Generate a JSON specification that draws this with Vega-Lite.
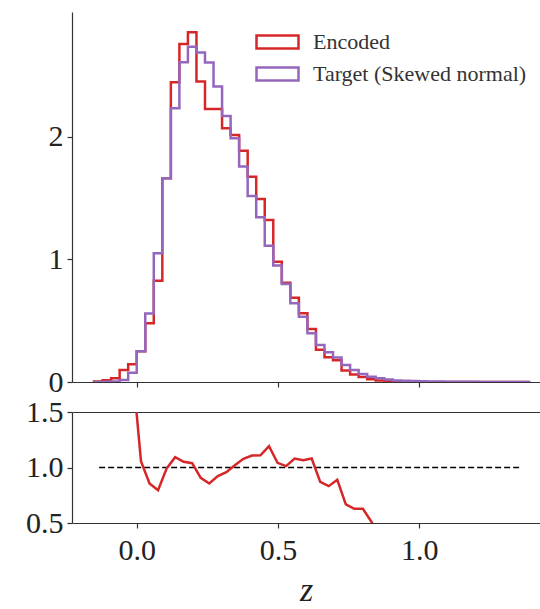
{
  "$schema": "https://vega.github.io/schema/vega-lite/v6.json",
  "padding": {"left": 12, "top": 12, "right": 0, "bottom": 0},
  "background": "white",
  "spacing": 30,
  "bounds": "flush",
  "config": {
    "view": {"stroke": null},
    "font": "Liberation Serif",
    "axis": {
      "grid": false,
      "domainColor": "#333333",
      "domainWidth": 1.2,
      "tickColor": "#333333",
      "tickWidth": 1.2,
      "tickSize": 5,
      "labelFont": "Liberation Serif",
      "labelFontSize": 30,
      "labelColor": "#222222",
      "titleFont": "Liberation Serif",
      "titleColor": "#222222"
    }
  },
  "datasets": {
    "hist": [
      {"series": "Encoded", "i": 0, "x": -0.151, "h": 0},
      {"series": "Encoded", "i": 1, "x": -0.151, "h": 0.005},
      {"series": "Encoded", "i": 2, "x": -0.1208, "h": 0.015},
      {"series": "Encoded", "i": 3, "x": -0.0906, "h": 0.03},
      {"series": "Encoded", "i": 4, "x": -0.0604, "h": 0.098},
      {"series": "Encoded", "i": 5, "x": -0.0302, "h": 0.144},
      {"series": "Encoded", "i": 6, "x": 0.0, "h": 0.25},
      {"series": "Encoded", "i": 7, "x": 0.0302, "h": 0.479},
      {"series": "Encoded", "i": 8, "x": 0.0604, "h": 0.827},
      {"series": "Encoded", "i": 9, "x": 0.0906, "h": 1.663},
      {"series": "Encoded", "i": 10, "x": 0.1208, "h": 2.447},
      {"series": "Encoded", "i": 11, "x": 0.151, "h": 2.759},
      {"series": "Encoded", "i": 12, "x": 0.1812, "h": 2.855},
      {"series": "Encoded", "i": 13, "x": 0.2114, "h": 2.452},
      {"series": "Encoded", "i": 14, "x": 0.2416, "h": 2.229},
      {"series": "Encoded", "i": 15, "x": 0.2718, "h": 2.229},
      {"series": "Encoded", "i": 16, "x": 0.302, "h": 2.071},
      {"series": "Encoded", "i": 17, "x": 0.3322, "h": 2.016},
      {"series": "Encoded", "i": 18, "x": 0.3624, "h": 1.888},
      {"series": "Encoded", "i": 19, "x": 0.3926, "h": 1.676},
      {"series": "Encoded", "i": 20, "x": 0.4228, "h": 1.494},
      {"series": "Encoded", "i": 21, "x": 0.453, "h": 1.322},
      {"series": "Encoded", "i": 22, "x": 0.4832, "h": 0.982},
      {"series": "Encoded", "i": 23, "x": 0.5134, "h": 0.81},
      {"series": "Encoded", "i": 24, "x": 0.5436, "h": 0.688},
      {"series": "Encoded", "i": 25, "x": 0.5738, "h": 0.561},
      {"series": "Encoded", "i": 26, "x": 0.604, "h": 0.433},
      {"series": "Encoded", "i": 27, "x": 0.6342, "h": 0.263},
      {"series": "Encoded", "i": 28, "x": 0.6644, "h": 0.201},
      {"series": "Encoded", "i": 29, "x": 0.6946, "h": 0.177},
      {"series": "Encoded", "i": 30, "x": 0.7248, "h": 0.093},
      {"series": "Encoded", "i": 31, "x": 0.755, "h": 0.062},
      {"series": "Encoded", "i": 32, "x": 0.7852, "h": 0.041},
      {"series": "Encoded", "i": 33, "x": 0.8154, "h": 0.022},
      {"series": "Encoded", "i": 34, "x": 0.8456, "h": 0.012},
      {"series": "Encoded", "i": 35, "x": 0.8758, "h": 0.008},
      {"series": "Encoded", "i": 36, "x": 0.906, "h": 0.004},
      {"series": "Encoded", "i": 37, "x": 0.9362, "h": 0.002},
      {"series": "Encoded", "i": 38, "x": 0.9664, "h": 0},
      {"series": "Encoded", "i": 39, "x": 1.3892, "h": 0},
      {"series": "Target (Skewed normal)", "i": 0, "x": -0.151, "h": 0},
      {"series": "Target (Skewed normal)", "i": 1, "x": -0.151, "h": 0.001},
      {"series": "Target (Skewed normal)", "i": 2, "x": -0.1208, "h": 0.003},
      {"series": "Target (Skewed normal)", "i": 3, "x": -0.0906, "h": 0.005},
      {"series": "Target (Skewed normal)", "i": 4, "x": -0.0604, "h": 0.016},
      {"series": "Target (Skewed normal)", "i": 5, "x": -0.0302, "h": 0.076},
      {"series": "Target (Skewed normal)", "i": 6, "x": 0.0, "h": 0.25},
      {"series": "Target (Skewed normal)", "i": 7, "x": 0.0302, "h": 0.56},
      {"series": "Target (Skewed normal)", "i": 8, "x": 0.0604, "h": 1.05},
      {"series": "Target (Skewed normal)", "i": 9, "x": 0.0906, "h": 1.663},
      {"series": "Target (Skewed normal)", "i": 10, "x": 0.1208, "h": 2.234},
      {"series": "Target (Skewed normal)", "i": 11, "x": 0.151, "h": 2.61},
      {"series": "Target (Skewed normal)", "i": 12, "x": 0.1812, "h": 2.737},
      {"series": "Target (Skewed normal)", "i": 13, "x": 0.2114, "h": 2.69},
      {"series": "Target (Skewed normal)", "i": 14, "x": 0.2416, "h": 2.607},
      {"series": "Target (Skewed normal)", "i": 15, "x": 0.2718, "h": 2.411},
      {"series": "Target (Skewed normal)", "i": 16, "x": 0.302, "h": 2.171},
      {"series": "Target (Skewed normal)", "i": 17, "x": 0.3322, "h": 1.989},
      {"series": "Target (Skewed normal)", "i": 18, "x": 0.3624, "h": 1.758},
      {"series": "Target (Skewed normal)", "i": 19, "x": 0.3926, "h": 1.518},
      {"series": "Target (Skewed normal)", "i": 20, "x": 0.4228, "h": 1.344},
      {"series": "Target (Skewed normal)", "i": 21, "x": 0.453, "h": 1.113},
      {"series": "Target (Skewed normal)", "i": 22, "x": 0.4832, "h": 0.95},
      {"series": "Target (Skewed normal)", "i": 23, "x": 0.5134, "h": 0.80},
      {"series": "Target (Skewed normal)", "i": 24, "x": 0.5436, "h": 0.642},
      {"series": "Target (Skewed normal)", "i": 25, "x": 0.5738, "h": 0.533},
      {"series": "Target (Skewed normal)", "i": 26, "x": 0.604, "h": 0.397},
      {"series": "Target (Skewed normal)", "i": 27, "x": 0.6342, "h": 0.302},
      {"series": "Target (Skewed normal)", "i": 28, "x": 0.6644, "h": 0.242},
      {"series": "Target (Skewed normal)", "i": 29, "x": 0.6946, "h": 0.199},
      {"series": "Target (Skewed normal)", "i": 30, "x": 0.7248, "h": 0.139},
      {"series": "Target (Skewed normal)", "i": 31, "x": 0.755, "h": 0.098},
      {"series": "Target (Skewed normal)", "i": 32, "x": 0.7852, "h": 0.065},
      {"series": "Target (Skewed normal)", "i": 33, "x": 0.8154, "h": 0.043},
      {"series": "Target (Skewed normal)", "i": 34, "x": 0.8456, "h": 0.03},
      {"series": "Target (Skewed normal)", "i": 35, "x": 0.8758, "h": 0.02},
      {"series": "Target (Skewed normal)", "i": 36, "x": 0.906, "h": 0.013},
      {"series": "Target (Skewed normal)", "i": 37, "x": 0.9362, "h": 0.01},
      {"series": "Target (Skewed normal)", "i": 38, "x": 0.9664, "h": 0.008},
      {"series": "Target (Skewed normal)", "i": 39, "x": 0.9966, "h": 0.006},
      {"series": "Target (Skewed normal)", "i": 40, "x": 1.0268, "h": 0.005},
      {"series": "Target (Skewed normal)", "i": 41, "x": 1.057, "h": 0.004},
      {"series": "Target (Skewed normal)", "i": 42, "x": 1.0872, "h": 0.003},
      {"series": "Target (Skewed normal)", "i": 43, "x": 1.1174, "h": 0.003},
      {"series": "Target (Skewed normal)", "i": 44, "x": 1.1476, "h": 0.002},
      {"series": "Target (Skewed normal)", "i": 45, "x": 1.1778, "h": 0.002},
      {"series": "Target (Skewed normal)", "i": 46, "x": 1.208, "h": 0.001},
      {"series": "Target (Skewed normal)", "i": 47, "x": 1.2382, "h": 0.001},
      {"series": "Target (Skewed normal)", "i": 48, "x": 1.2684, "h": 0.001},
      {"series": "Target (Skewed normal)", "i": 49, "x": 1.2986, "h": 0.001},
      {"series": "Target (Skewed normal)", "i": 50, "x": 1.3288, "h": 0.001},
      {"series": "Target (Skewed normal)", "i": 51, "x": 1.359, "h": 0.001},
      {"series": "Target (Skewed normal)", "i": 52, "x": 1.3892, "h": 0}
    ],
    "ratio": [
      {"x": -0.0453, "r": 6.0},
      {"x": -0.0151, "r": 1.9},
      {"x": 0.0151, "r": 1.057},
      {"x": 0.0453, "r": 0.856},
      {"x": 0.0755, "r": 0.795},
      {"x": 0.1057, "r": 0.99},
      {"x": 0.1359, "r": 1.093},
      {"x": 0.1661, "r": 1.051},
      {"x": 0.1963, "r": 1.039},
      {"x": 0.2265, "r": 0.907},
      {"x": 0.2567, "r": 0.856},
      {"x": 0.2869, "r": 0.922},
      {"x": 0.3171, "r": 0.958},
      {"x": 0.3473, "r": 1.021},
      {"x": 0.3775, "r": 1.078},
      {"x": 0.4077, "r": 1.108},
      {"x": 0.4379, "r": 1.11},
      {"x": 0.4681, "r": 1.192},
      {"x": 0.4983, "r": 1.042},
      {"x": 0.5285, "r": 1.012},
      {"x": 0.5587, "r": 1.081},
      {"x": 0.5889, "r": 1.066},
      {"x": 0.6191, "r": 1.081},
      {"x": 0.6493, "r": 0.871},
      {"x": 0.6795, "r": 0.832},
      {"x": 0.7097, "r": 0.889},
      {"x": 0.7399, "r": 0.667},
      {"x": 0.7701, "r": 0.628},
      {"x": 0.8003, "r": 0.628},
      {"x": 0.8305, "r": 0.511},
      {"x": 0.8607, "r": 0.4},
      {"x": 0.8909, "r": 0.4}
    ],
    "ref": [
      {"x1": -0.133, "x2": 1.362, "y": 1.0}
    ]
  },
  "vconcat": [
    {
      "width": 468,
      "height": 370,
      "data": {"name": "hist"},
      "mark": {"type": "line", "interpolate": "step-after", "strokeWidth": 2.5, "clip": true},
      "encoding": {
        "x": {
          "field": "x", "type": "quantitative",
          "scale": {"domain": [-0.229, 1.427], "nice": false, "zero": false},
          "axis": {"values": [0, 0.5, 1], "labels": false, "title": null}
        },
        "y": {
          "field": "h", "type": "quantitative",
          "scale": {"domain": [0, 3.02], "nice": false},
          "axis": {"values": [0, 1, 2], "title": null, "labelPadding": 4, "minExtent": 60, "maxExtent": 60}
        },
        "color": {
          "field": "series", "type": "nominal",
          "scale": {"domain": ["Encoded", "Target (Skewed normal)"], "range": ["#d62728", "#9467bd"]},
          "legend": {
            "orient": "none",
            "legendX": 183,
            "legendY": 20,
            "title": null,
            "padding": 0,
            "symbolType": "M-1,-0.31H1V0.31H-1Z",
            "symbolSize": 1764,
            "symbolStrokeWidth": 2.5,
            "symbolFillColor": "transparent",
            "labelFont": "Liberation Serif",
            "labelFontSize": 22,
            "labelColor": "#333333",
            "labelOffset": 13,
            "labelLimit": 400,
            "rowPadding": 10,
            "clipHeight": 20
          }
        },
        "order": {"field": "i", "type": "quantitative"}
      }
    },
    {
      "width": 468,
      "height": 111,
      "layer": [
        {
          "data": {"name": "ref"},
          "mark": {"type": "rule", "color": "black", "strokeWidth": 1.5, "strokeDash": [6, 3]},
          "encoding": {
            "x": {
              "field": "x1", "type": "quantitative",
              "scale": {"domain": [-0.229, 1.427], "nice": false, "zero": false},
              "axis": {"orient": "top", "labels": false, "ticks": false, "title": null}
            },
            "x2": {"field": "x2"},
            "y": {"field": "y", "type": "quantitative"}
          }
        },
        {
          "data": {"name": "ratio"},
          "mark": {"type": "line", "color": "#d62728", "strokeWidth": 2.5, "clip": true},
          "encoding": {
            "x": {
              "field": "x", "type": "quantitative",
              "scale": {"domain": [-0.229, 1.427], "nice": false, "zero": false},
              "axis": {"values": [0, 0.5, 1], "format": ".1f", "title": "z", "titleFontStyle": "italic", "titleFontWeight": "normal", "titleFontSize": 34, "titlePadding": 8, "labelPadding": 7}
            },
            "y": {
              "field": "r", "type": "quantitative",
              "scale": {"domain": [0.5, 1.5], "nice": false, "zero": false},
              "axis": {"values": [0.5, 1.0, 1.5], "format": ".1f", "title": null, "labelPadding": 4, "minExtent": 60, "maxExtent": 60}
            }
          }
        }
      ],
      "resolve": {"axis": {"x": "independent"}}
    }
  ]
}
